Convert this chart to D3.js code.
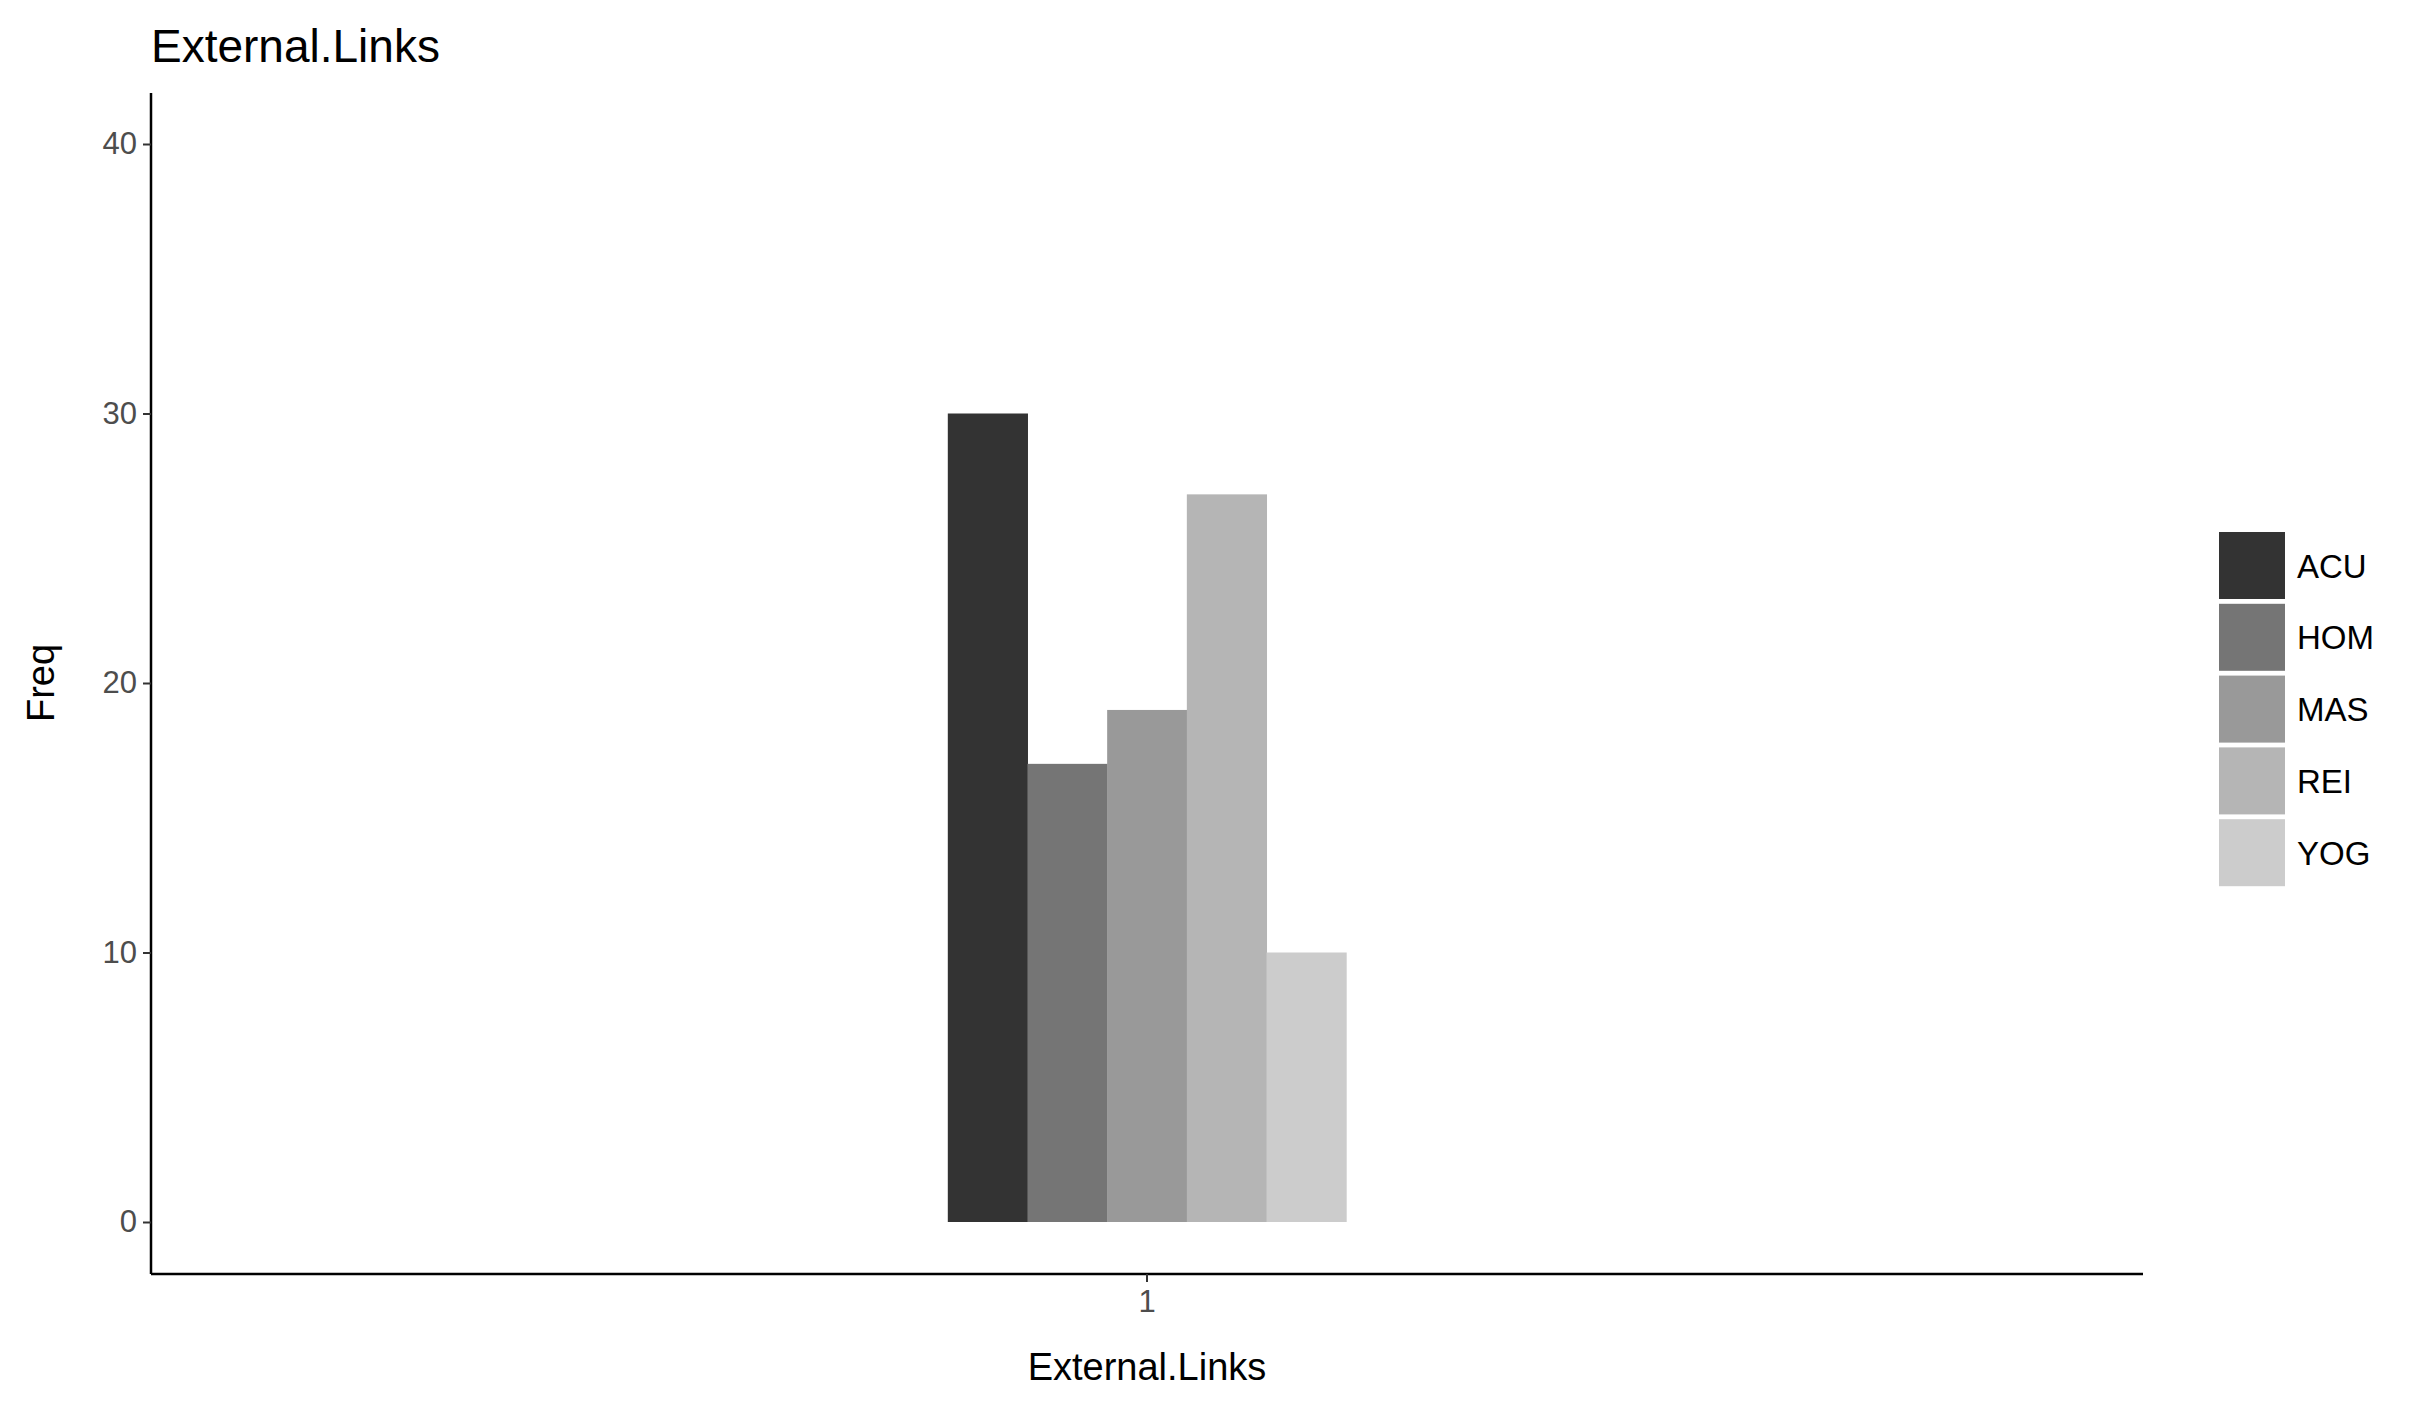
<!DOCTYPE html>
<html>
<head>
<meta charset="utf-8">
<script src="https://cdn.jsdelivr.net/npm/d3@7"></script>
<style>
  body { margin: 0; background: #fff; }
  text { font-family: "Liberation Sans", Arial, sans-serif; }
</style>
</head>
<body>
<div id="chart"></div>
<script>
// data
const categories = ["1"];
const groups = ["ACU", "HOM", "MAS", "REI", "YOG"];
const freq = [30, 17, 19, 27, 10];
const fills = ["#333333", "#757575", "#999999", "#b5b5b5", "#cccccc"];
const yTicks = [0, 10, 20, 30, 40];

const W = 2430, H = 1404;
const panel = {left: 151, right: 2143, top: 93, bottom: 1274};

const svg = d3.select("#chart").append("svg")
    .attr("width", W).attr("height", H);

const x = d3.scaleBand().domain(categories)
    .range([panel.left, panel.right])
    .paddingInner(0).paddingOuter(2);
const xg = d3.scaleBand().domain(groups).range([0, x.bandwidth()]);
const y = d3.scaleLinear().domain([0, 40]).range([1222, 144]);

const color = d3.scaleOrdinal().domain(groups).range(fills);

// bars
svg.append("g").selectAll("rect")
    .data(groups.map((g, i) => ({g, v: freq[i], c: categories[0]})))
    .join("rect")
    .attr("x", d => x(d.c) + xg(d.g))
    .attr("width", xg.bandwidth() + 0.5)
    .attr("y", d => y(d.v))
    .attr("height", d => y(0) - y(d.v))
    .attr("fill", d => color(d.g));

// axes
const yAxis = svg.append("g")
    .attr("transform", `translate(${panel.left},0)`)
    .call(d3.axisLeft(y).tickValues(yTicks).tickSize(8).tickPadding(6));
yAxis.select(".domain").attr("d", `M0,${panel.top}V${panel.bottom}`).attr("stroke-width", 2.5);
yAxis.selectAll(".tick line").attr("stroke", "#333").attr("stroke-width", 2);
yAxis.selectAll(".tick text").attr("font-size", 31).attr("fill", "#4d4d4d")
    .style("font-family", "Liberation Sans, Arial, sans-serif");

const xAxis = svg.append("g")
    .attr("transform", `translate(0,${panel.bottom})`)
    .call(d3.axisBottom(x).tickSize(8).tickPadding(8));
xAxis.select(".domain").attr("d", `M${panel.left},0H${panel.right}`).attr("stroke-width", 2.5);
xAxis.selectAll(".tick line").attr("stroke", "#333").attr("stroke-width", 2);
xAxis.selectAll(".tick text").attr("font-size", 31).attr("fill", "#4d4d4d")
    .style("font-family", "Liberation Sans, Arial, sans-serif");

// titles
svg.append("text").attr("x", panel.left).attr("y", 62)
    .attr("font-size", 46).text("External.Links");
svg.append("text").attr("x", (panel.left + panel.right) / 2).attr("y", 1380)
    .attr("text-anchor", "middle").attr("font-size", 38).text("External.Links");
svg.append("text")
    .attr("transform", `translate(54,683) rotate(-90)`)
    .attr("text-anchor", "middle").attr("font-size", 38).text("Freq");

// legend
const leg = svg.append("g").selectAll("g")
    .data(groups).join("g")
    .attr("transform", (d, i) => `translate(2219,${532 + i * 71.8})`);
leg.append("rect").attr("width", 66).attr("height", 67).attr("fill", d => color(d));
leg.append("text").attr("x", 78).attr("y", 34).attr("dy", "0.35em")
    .attr("font-size", 33).text(d => d);
</script>
</body>
</html>
